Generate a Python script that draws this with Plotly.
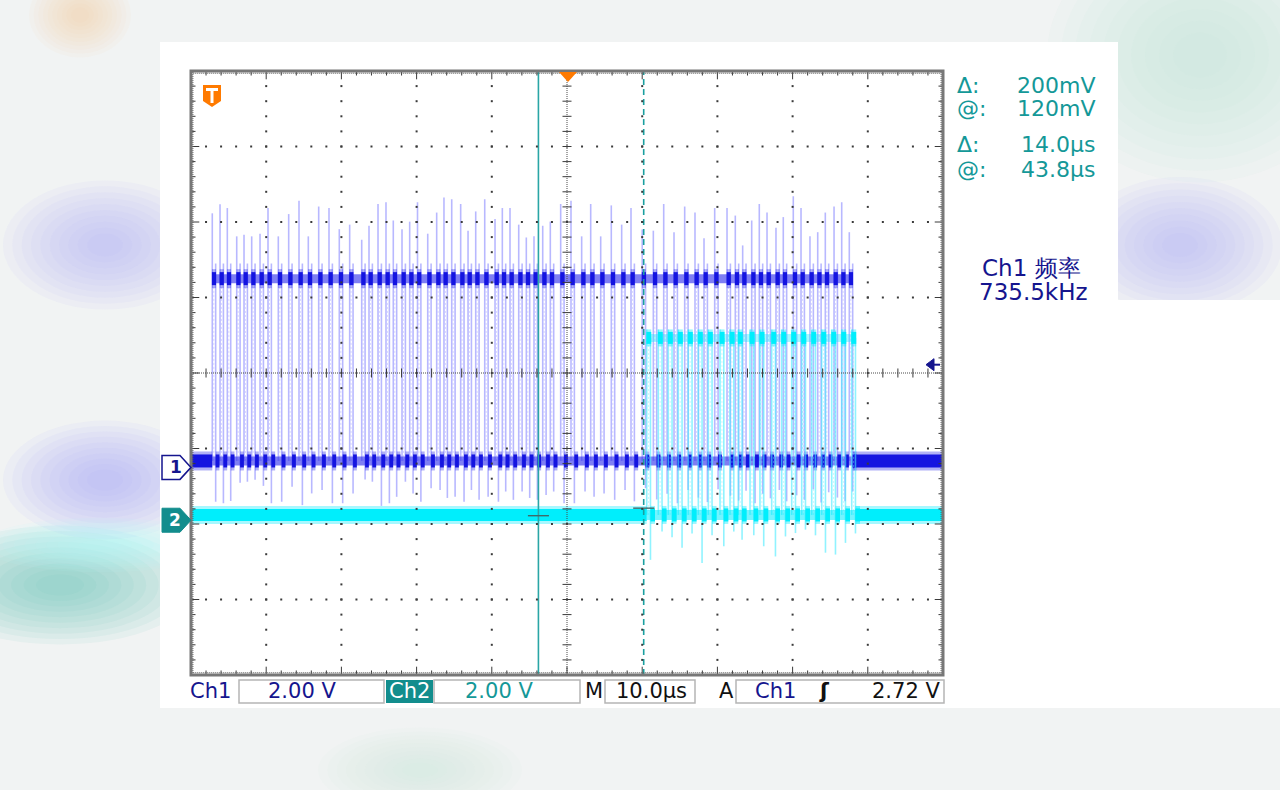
import plotly.graph_objects as go

time_div_us = 10.0          # M 10.0us
ch1_volts_div = 2.0         # Ch1 2.00 V
ch2_volts_div = 2.0         # Ch2 2.00 V
ch1_ground_div = -1.25      # Ch1 ground marker (divisions from centre)
ch2_ground_div = -1.95      # Ch2 ground marker
trigger_level_v = 2.72      # A Ch1 rising 2.72 V
cursor_t_us = [-3.8, 10.2]  # vertical cursors
cursor_v2 = [0.12, 0.32]    # voltage cursor marks (Ch2)
readout_t_at_us = 43.8
ch1_freq_khz = 735.5

ch1_low_v = 0.17
ch1_high_v = 5.0
ch1_fall_delay_us = 0.45
ch1_rise_t = [-47.17, -46.14, -45.17, -43.92, -42.95, -41.93, -40.82, -39.76, -38.39, -37.01,
              -35.64, -34.40, -33.02, -31.65, -30.28, -28.90, -27.30, -26.33, -25.13, -24.07,
              -23.10, -21.94, -20.92, -19.88, -18.52, -17.33, -16.36, -15.33, -14.14, -13.16,
              -12.14, -10.94, -9.57, -8.60, -7.58, -6.42, -5.41, -4.39, -3.23, -2.22,
              -0.84, 0.53, 1.95, 3.15, 4.48, 5.89, 7.27, 8.51, 10.0, 11.48,
              12.86, 14.23, 15.65, 17.02, 18.22, 19.64, 21.28, 22.38, 23.36, 24.56,
              25.57, 26.60, 27.79, 28.76, 30.09, 31.12, 32.31, 33.34, 34.35, 35.51,
              36.53, 37.54]
ch1_peak_v = [6.73, 6.97, 6.87, 6.12, 6.16, 6.12, 6.19, 6.87, 6.12, 6.71,
              7.06, 6.12, 6.91, 6.87, 6.31, 6.43, 6.03, 6.40, 6.98, 7.02,
              6.54, 6.31, 6.51, 7.02, 6.19, 6.75, 7.15, 7.10, 6.98, 6.27,
              6.78, 7.10, 6.58, 6.87, 6.87, 6.43, 6.09, 6.12, 6.40, 6.51,
              6.98, 7.06, 6.12, 6.98, 6.12, 6.94, 6.43, 6.87, 6.30, 6.27,
              6.98, 6.23, 6.91, 6.75, 6.07, 6.87, 6.87, 6.67, 5.88, 6.54,
              6.98, 6.75, 6.35, 6.63, 7.18, 6.87, 6.12, 6.23, 6.75, 6.91,
              7.02, 6.23]
ch1_under_v = [-0.91, -0.95, -0.89, -0.41, -0.38, -0.33, -0.49, -0.95, -0.91, -0.51,
               -1.00, -0.69, -0.60, -0.95, -0.95, -0.69, -0.32, -0.38, -1.02, -0.95,
               -0.78, -0.38, -0.69, -0.91, -0.55, -0.60, -0.81, -0.78, -0.91, -0.60,
               -0.86, -0.78, -0.91, -0.64, -0.86, -0.64, -0.81, -0.86, -0.73, -0.64,
               -0.95, -0.95, -0.64, -0.78, -0.69, -0.86, -0.60, -0.90, -0.55, -0.85,
               -0.70, -0.95, -0.60, -0.80, -0.92, -0.58, -0.75, -0.88, -0.62, -0.95,
               -0.70, -0.82, -0.60, -0.90, -0.74, -0.86, -0.58, -0.93, -0.66, -0.80,
               -0.90, -0.64]

ch2_low_v = 0.14
ch2_high_v = 4.83
ch2_peak_v = 5.05
ch2_fall_delay_us = 0.5
ch2_rise_t = [10.60, 12.14, 13.47, 14.80, 16.13, 17.46, 18.79, 20.35, 21.68, 22.78,
              24.34, 25.66, 27.22, 28.55, 29.88, 31.21, 32.54, 33.87, 35.20, 36.53, 37.86]
ch2_under_v = [-1.05, -0.30, -0.45, -0.73, -0.35, -1.13, -0.40, -0.69, -0.30, -0.52,
               -0.40, -0.69, -0.96, -0.43, -0.34, -0.25, -0.40, -0.86, -0.91, -0.60, -0.35]

# ---------------- geometry / helpers ----------------
W, H = 1280, 790
PL, PR, PT, PB = 191, 943, 71, 675
XDIV, YDIV = 10, 8
t_min, t_max = -XDIV / 2 * time_div_us, XDIV / 2 * time_div_us
ch1_range = [(-YDIV / 2 - ch1_ground_div) * ch1_volts_div, (YDIV / 2 - ch1_ground_div) * ch1_volts_div]
ch2_range = [(-YDIV / 2 - ch2_ground_div) * ch2_volts_div, (YDIV / 2 - ch2_ground_div) * ch2_volts_div]


def px(x):
    return (x - PL) / (PR - PL)


def py(y):
    return (PB - y) / (PB - PT)


def div_to_ypx(d):
    return (PT + PB) / 2 - d * (PB - PT) / YDIV


NAVY = "#15158e"
TEAL = "#149898"
TEALBOX = "#128d8d"
ORANGE = "#ff7a00"
FONT = "DejaVu Sans"
BLUE = "#1414e0"
CYAN = "#00eefc"

fig = go.Figure()


def add_segments(segs, yaxis, color, width, dash=None):
    xs, ys = [], []
    for (x0, y0, x1, y1) in segs:
        xs += [x0, x1, None]
        ys += [y0, y1, None]
    line = dict(color=color, width=width)
    if dash:
        line["dash"] = dash
    fig.add_trace(go.Scatter(x=xs, y=ys, mode="lines", yaxis=yaxis, line=line,
                             hoverinfo="skip", showlegend=False))


# ---------------- graticule (division units on y3) ----------------
gx, gy = [], []
for i in range(XDIV + 1):
    if i in (0, XDIV, XDIV // 2):
        continue
    t = t_min + i * time_div_us
    for k in range(1, YDIV * 5):
        gx.append(t)
        gy.append(-YDIV / 2 + k * 0.2)
for j in range(YDIV + 1):
    if j in (0, YDIV, YDIV // 2):
        continue
    d = -YDIV / 2 + j
    for k in range(1, XDIV * 5):
        gx.append(t_min + k * time_div_us / 5)
        gy.append(d)
fig.add_trace(go.Scatter(x=gx, y=gy, mode="markers", yaxis="y3",
                         marker=dict(symbol="square", size=2, color="#3a3a3a", line=dict(width=0)),
                         hoverinfo="skip", showlegend=False))

# centre lines (dense dotted) + ticks
add_segments([(0, -YDIV / 2, 0, YDIV / 2)], "y3", "#4a4a4a", 1, dash="1px,1px")
add_segments([(t_min, 0, t_max, 0)], "y3", "#4a4a4a", 1, dash="1px,1px")
tick_t = time_div_us * 0.06
tick_d = 0.06
ticks = []
for k in range(1, YDIV * 5):
    d = -YDIV / 2 + k * 0.2
    ticks.append((-tick_t, d, tick_t, d))
for k in range(1, XDIV * 5):
    t = t_min + k * time_div_us / 5
    ticks.append((t, -tick_d, t, tick_d))
add_segments(ticks, "y3", "#3a3a3a", 1)

# border ticks
bt = []
for k in range(1, XDIV * 5):
    t = t_min + k * time_div_us / 5
    ln = 0.11 if k % 5 == 0 else 0.06
    bt.append((t, YDIV / 2, t, YDIV / 2 - ln))
    bt.append((t, -YDIV / 2, t, -YDIV / 2 + ln))
for k in range(1, YDIV * 5):
    d = -YDIV / 2 + k * 0.2
    ln = time_div_us * (0.11 if k % 5 == 0 else 0.06)
    bt.append((t_min, d, t_min + ln, d))
    bt.append((t_max, d, t_max - ln, d))
add_segments(bt, "y3", "#3a3a3a", 1)
add_segments([(t_min + 0.3, YDIV / 2 - 0.03, t_max - 0.3, YDIV / 2 - 0.03),
              (t_min + 0.3, -YDIV / 2 + 0.03, t_max - 0.3, -YDIV / 2 + 0.03),
              (t_min + 0.25, -YDIV / 2, t_min + 0.25, YDIV / 2),
              (t_max - 0.25, -YDIV / 2, t_max - 0.25, YDIV / 2)], "y3", "#555555", 1, dash="1px,1px")

# ---------------- waveforms ----------------
# Ch1 light edges
ch1_edges = []
for t, pk, un in zip(ch1_rise_t, ch1_peak_v, ch1_under_v):
    ch1_edges.append((t, ch1_low_v, t, pk))
    ch1_edges.append((t + ch1_fall_delay_us, ch1_high_v + 0.4, t + ch1_fall_delay_us, un))
add_segments(ch1_edges, "y", "rgba(125,125,255,0.55)", 1.6)
faint = [(t + 0.2, ch1_low_v, t + 0.2, ch1_high_v) for t in ch1_rise_t]
add_segments(faint, "y", "rgba(150,150,255,0.35)", 1, dash="2px,2px")

# Ch2 light edges
ch2_edges = []
for t, un in zip(ch2_rise_t, ch2_under_v):
    ch2_edges.append((t, ch2_low_v, t, ch2_peak_v))
    ch2_edges.append((t + ch2_fall_delay_us, ch2_high_v, t + ch2_fall_delay_us, un))
add_segments(ch2_edges, "y2", "rgba(70,235,255,0.6)", 1.6)
faint2 = [(t + 0.25, ch2_low_v, t + 0.25, ch2_high_v) for t in ch2_rise_t]
add_segments(faint2, "y2", "rgba(110,240,255,0.4)", 1, dash="2px,2px")

# Ch2 bands
c2_first, c2_last = ch2_rise_t[0], ch2_rise_t[-1] + ch2_fall_delay_us
solid2 = [(t_min, ch2_low_v, c2_first, ch2_low_v), (c2_last, ch2_low_v, t_max, ch2_low_v)]
add_segments(solid2, "y2", "rgba(0,235,255,0.35)", 18)
add_segments(solid2, "y2", CYAN, 12)
add_segments([(c2_first, ch2_low_v, c2_last, ch2_low_v)], "y2", "rgba(0,235,255,0.55)", 10)
add_segments([(c2_first, ch2_high_v, c2_last, ch2_high_v)], "y2", "rgba(0,235,255,0.35)", 8)
hb2 = [(t - 0.05, ch2_high_v, t + ch2_fall_delay_us + 0.1, ch2_high_v) for t in ch2_rise_t]
add_segments(hb2, "y2", "rgba(0,235,255,0.4)", 17)
add_segments(hb2, "y2", CYAN, 12)
lb2 = [(t + ch2_fall_delay_us, ch2_low_v, t + ch2_fall_delay_us + 0.6, ch2_low_v) for t in ch2_rise_t]
add_segments(lb2, "y2", "rgba(0,235,255,0.4)", 18)
add_segments(lb2, "y2", CYAN, 13)

# Ch1 bands
c1_first, c1_last = ch1_rise_t[0], ch1_rise_t[-1] + ch1_fall_delay_us
solid1 = [(t_min, ch1_low_v, c1_first, ch1_low_v), (c1_last, ch1_low_v, t_max, ch1_low_v)]
add_segments(solid1, "y", "rgba(30,30,230,0.35)", 19)
add_segments(solid1, "y", BLUE, 13)
add_segments([(c1_first, ch1_low_v, c1_last, ch1_low_v)], "y", "rgba(40,40,235,0.6)", 9)
add_segments([(c1_first, ch1_high_v, c1_last, ch1_high_v)], "y", "rgba(40,40,235,0.6)", 9)
hb1 = [(t - 0.05, ch1_high_v, t + ch1_fall_delay_us + 0.05, ch1_high_v) for t in ch1_rise_t]
add_segments(hb1, "y", "rgba(30,30,230,0.35)", 19)
add_segments(hb1, "y", BLUE, 13)
lb1 = [(t + ch1_fall_delay_us, ch1_low_v, t + ch1_fall_delay_us + 0.5, ch1_low_v) for t in ch1_rise_t]
add_segments(lb1, "y", "rgba(30,30,230,0.35)", 19)
add_segments(lb1, "y", BLUE, 13)

# cursors
add_segments([(cursor_t_us[0], ch2_range[0], cursor_t_us[0], ch2_range[1])], "y2", "#2aa6a6", 1.6)
add_segments([(cursor_t_us[1], ch2_range[0], cursor_t_us[1], ch2_range[1])], "y2", "#1a9f9f", 1.6, dash="6px,4px")
add_segments([(cursor_t_us[0] - 1.4, cursor_v2[0], cursor_t_us[0] + 1.4, cursor_v2[0]),
              (cursor_t_us[1] - 1.4, cursor_v2[1], cursor_t_us[1] + 1.4, cursor_v2[1])], "y2", "#3e6a6a", 1.4)

# ---------------- shapes (frame, markers, background) ----------------
shapes = []


def ell(cx, cy, rx, ry, color):
    shapes.append(dict(type="circle", xref="paper", yref="paper", layer="below",
                       x0=px(cx - rx), x1=px(cx + rx), y0=py(cy + ry), y1=py(cy - ry),
                       fillcolor=color, line=dict(width=0)))


def soft_blob(cx, cy, rx, ry, rgb, a, n=10):
    for i in range(n):
        s = 1.7 - 1.4 * i / (n - 1)
        ell(cx, cy, rx * s, ry * s, f"rgba({rgb},{a / n:.3f})")


soft_blob(80, 15, 30, 25, "255,200,150", 0.55)
soft_blob(105, 245, 60, 38, "175,175,255", 0.75)
soft_blob(105, 480, 60, 35, "165,165,255", 0.8)
soft_blob(60, 585, 80, 35, "110,200,190", 0.85)
soft_blob(100, 545, 70, 16, "180,255,255", 0.8)
soft_blob(1200, 55, 90, 75, "185,228,220", 0.8)
soft_blob(1180, 245, 60, 40, "175,175,250", 0.75)
soft_blob(420, 770, 60, 25, "195,228,222", 0.5)

# white screen panel
shapes.append(dict(type="rect", xref="paper", yref="paper", layer="below",
                   x0=px(160), x1=px(1118), y0=py(708), y1=py(42), fillcolor="white", line=dict(width=0)))
shapes.append(dict(type="rect", xref="paper", yref="paper", layer="below",
                   x0=px(1118), x1=px(1280), y0=py(708), y1=py(300), fillcolor="white", line=dict(width=0)))
# frame
shapes.append(dict(type="rect", xref="paper", yref="paper", x0=0, x1=1, y0=0, y1=1,
                   line=dict(color="#777777", width=3)))
# trigger T marker
shapes.append(dict(type="path", xref="paper", yref="paper", fillcolor=ORANGE, line=dict(width=0),
                   path=f"M{px(203)},{py(85)} L{px(221)},{py(85)} L{px(221)},{py(101)} "
                        f"L{px(212)},{py(107)} L{px(203)},{py(101)} Z"))
shapes.append(dict(type="rect", xref="paper", yref="paper", fillcolor="white", line=dict(width=0),
                   x0=px(206), x1=px(218), y0=py(91), y1=py(88)))
shapes.append(dict(type="rect", xref="paper", yref="paper", fillcolor="white", line=dict(width=0),
                   x0=px(210.5), x1=px(213.5), y0=py(103), y1=py(88)))
# trigger position triangle
shapes.append(dict(type="path", xref="paper", yref="paper", fillcolor=ORANGE, line=dict(width=0),
                   path=f"M{px(559)},{py(72)} L{px(577)},{py(72)} L{px(568)},{py(82)} Z"))
# trigger level arrow (Ch1 axis)
ty = div_to_ypx(ch1_ground_div + trigger_level_v / ch1_volts_div)
shapes.append(dict(type="path", xref="paper", yref="paper", fillcolor=NAVY, line=dict(color=NAVY, width=1),
                   path=f"M{px(926)},{py(ty)} L{px(934)},{py(ty - 6)} L{px(934)},{py(ty + 6)} Z"))
shapes.append(dict(type="line", xref="paper", yref="paper", line=dict(color=NAVY, width=2),
                   x0=px(932), x1=px(940), y0=py(ty), y1=py(ty)))
# channel ground markers
g1 = div_to_ypx(ch1_ground_div)
g2 = div_to_ypx(ch2_ground_div)
shapes.append(dict(type="path", xref="paper", yref="paper", fillcolor="white",
                   line=dict(color=NAVY, width=1.5),
                   path=f"M{px(162)},{py(g1 - 12)} L{px(180)},{py(g1 - 12)} L{px(191)},{py(g1)} "
                        f"L{px(180)},{py(g1 + 12)} L{px(162)},{py(g1 + 12)} Z"))
shapes.append(dict(type="path", xref="paper", yref="paper", fillcolor=TEALBOX,
                   line=dict(color=TEALBOX, width=1),
                   path=f"M{px(162)},{py(g2 - 12)} L{px(180)},{py(g2 - 12)} L{px(191)},{py(g2)} "
                        f"L{px(180)},{py(g2 + 12)} L{px(162)},{py(g2 + 12)} Z"))
# bottom status boxes
for x0, x1 in ((239, 384), (434, 580), (605, 695), (736, 944)):
    shapes.append(dict(type="rect", xref="paper", yref="paper", line=dict(color="#b5b5b5", width=1.5),
                       x0=px(x0), x1=px(x1), y0=py(703), y1=py(680)))
shapes.append(dict(type="rect", xref="paper", yref="paper", fillcolor=TEALBOX, line=dict(width=0),
                   x0=px(386), x1=px(433), y0=py(703), y1=py(680)))

# ---------------- annotations ----------------
ann = []


def txt(x, y, s, color, size=20, anchor="left", bold=False):
    ann.append(dict(x=px(x), y=py(y), xref="paper", yref="paper", text=f"<b>{s}</b>" if bold else s,
                    showarrow=False, xanchor=anchor, yanchor="middle",
                    font=dict(family=FONT, size=size, color=color)))


dv_mv = round((cursor_v2[1] - cursor_v2[0]) * 1000)
at_mv = round(cursor_v2[0] * 1000)
dt_us = cursor_t_us[1] - cursor_t_us[0]
txt(955, 85, "Δ:", TEAL, 22)
txt(1097, 85, f"{dv_mv}mV", TEAL, 22, "right")
txt(955, 108, "@:", TEAL, 22)
txt(1097, 108, f"{at_mv}mV", TEAL, 22, "right")
txt(955, 145, "Δ:", TEAL, 22)
txt(1097, 145, f"{dt_us:.1f}µs", TEAL, 22, "right")
txt(955, 169, "@:", TEAL, 22)
txt(1097, 169, f"{readout_t_at_us:.1f}µs", TEAL, 22, "right")
txt(1031, 268, "Ch1 频率", NAVY, 23, "center")
txt(1033, 292, f"{ch1_freq_khz:.1f}kHz", NAVY, 23, "center")

txt(176, g1, "1", NAVY, 17, "center", True)
txt(175, g2, "2", "white", 17, "center", True)

txt(188, 691, "Ch1", NAVY, 21)
txt(302, 691, f"{ch1_volts_div:.2f} V", NAVY, 21, "center")
txt(409, 691, "Ch2", "white", 21, "center")
txt(499, 691, f"{ch2_volts_div:.2f} V", TEAL, 21, "center")
txt(594, 691, "M", "#111111", 21, "center")
txt(651, 691, f"{time_div_us:.1f}µs", "#111111", 21, "center")
txt(726, 691, "A", "#111111", 21, "center")
txt(775, 691, "Ch1", NAVY, 21, "center")
txt(824, 691, "ʃ", "#111111", 21, "center", True)
txt(942, 691, f"{trigger_level_v:.2f} V", "#111111", 21, "right")

ax_off = dict(visible=False, showgrid=False, zeroline=False, fixedrange=True)
fig.update_layout(
    width=W, height=H,
    margin=dict(l=PL, r=W - PR, t=PT, b=H - PB, autoexpand=False),
    paper_bgcolor="#f1f3f3", plot_bgcolor="white",
    xaxis=dict(range=[t_min, t_max], **ax_off),
    yaxis=dict(range=ch1_range, **ax_off),
    yaxis2=dict(range=ch2_range, overlaying="y", **ax_off),
    yaxis3=dict(range=[-YDIV / 2, YDIV / 2], overlaying="y", **ax_off),
    shapes=shapes, annotations=ann, showlegend=False,
)

fig.write_html("out.html", config={"displayModeBar": False},
               post_script="document.body.style.margin='0';document.body.style.overflow='hidden';")
